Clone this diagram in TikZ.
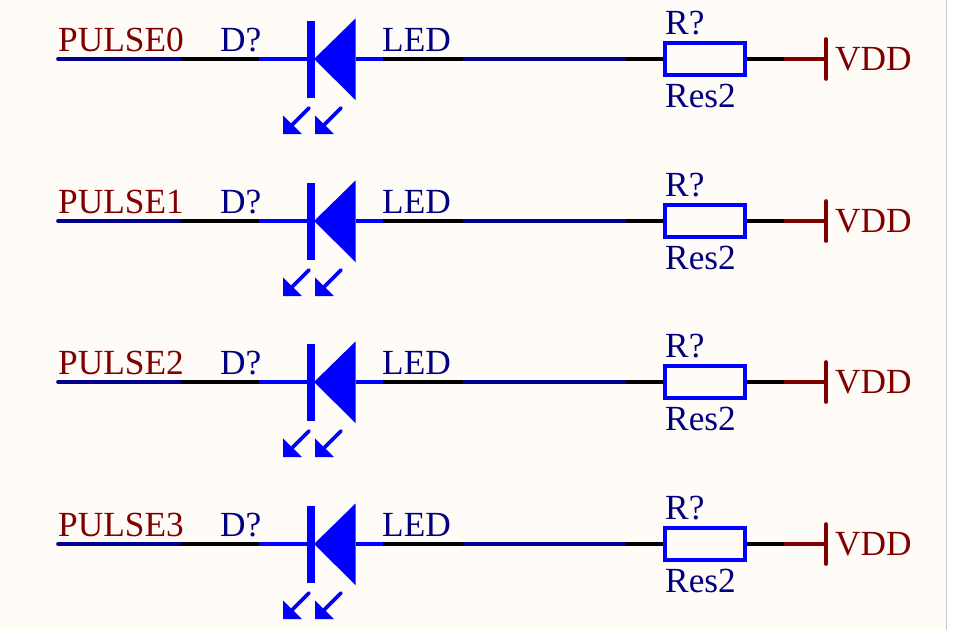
\documentclass[tikz,border=0pt]{standalone}
\usepackage{fontspec}
\setmainfont{Liberation Serif}
\definecolor{paper}{HTML}{FFFCF8}
\definecolor{navyw}{HTML}{00008C}
\definecolor{navyt}{HTML}{000080}
\definecolor{redd}{HTML}{800000}
\definecolor{bluep}{HTML}{0000FF}
\tikzset{
  lbl/.style={inner sep=0pt,anchor=base west,font=\fontsize{35.3}{35.3}\selectfont},
  netlbl/.style={lbl,text=redd},
  partlbl/.style={lbl,text=navyt},
  wire/.style={line width=3.6pt},
  resbox/.style={draw=bluep,line width=4pt,fill=paper,minimum width=80pt,minimum height=32pt,inner sep=0pt,anchor=center},
  ledbar/.style={fill=bluep,draw=none,minimum width=8pt,minimum height=77pt,inner sep=0pt},
  tri/.style={fill=bluep,draw=none},
  ray/.style={draw=bluep,line width=3.6pt,line cap=round},
  railbar/.style={draw=redd,line width=3.6pt,line cap=round},
}
\begin{document}
\begin{tikzpicture}[x=1pt,y=-1pt]
\useasboundingbox (0,0) rectangle (953,630);
\fill[paper] (0,0) rectangle (953,630);
\fill[white!90!paper] (947,0) rectangle (953,630);
\fill[black!22] (945.5,0) rectangle (947,630);
\foreach \r/\y/\n in {0/59/PULSE0,1/221/PULSE1,2/382/PULSE2,3/544/PULSE3}{
  \begin{scope}[shift={(0,\y)}]
    \coordinate (w0\r) at (58,0);
    \coordinate (w1\r) at (181,0);
    \coordinate (w2\r) at (259,0);
    \coordinate (w3\r) at (383,0);
    \coordinate (w4\r) at (463,0);
    \coordinate (w5\r) at (626,0);
    \coordinate (w6\r) at (784,0);
    \node[resbox] (res\r) at (705,0) {};
    \node[ledbar] (bar\r) at (311,0.5) {};
    \coordinate (tip\r) at (314,0);
    \coordinate (up\r) at (355.5,-40.5);
    \coordinate (dn\r) at (355.5,41);
    \coordinate (rail\r) at (826,0);
    \coordinate (railt\r) at (826,-20);
    \coordinate (railb\r) at (826,20);
    \draw[wire,navyw,line cap=round] (w0\r) -- (w1\r);
    \draw[wire,black] (w1\r) -- (w2\r);
    \draw[wire,bluep] (w2\r) -- (tip\r);
    \draw[wire,bluep] (up\r |- tip\r) -- (w3\r);
    \draw[wire,black] (w3\r) -- (w4\r);
    \draw[wire,navyw] (w4\r) -- (w5\r);
    \draw[wire,black] (w5\r) -- (res\r.west);
    \draw[wire,black] (res\r.east) -- (w6\r);
    \draw[wire,redd] (w6\r) -- (rail\r);
    \draw[railbar] (railt\r) -- (railb\r);
    \fill[tri] (tip\r) -- (up\r) -- (dn\r) -- cycle;
    \coordinate (a\r) at (283,75);
    \coordinate (b\r) at (315,75);
    \draw[ray] (309,49) -- (292,66);
    \fill[tri] (a\r) -- (283,56.5) -- (302,75) -- cycle;
    \draw[ray] (341,49) -- (324,66);
    \fill[tri] (b\r) -- (315,56.5) -- (334,75) -- cycle;
    \node[netlbl] (net\r) at (58,-8) {\n};
    \node[partlbl] (des\r) at (220,-8) {D?};
    \node[partlbl] (val\r) at (382,-8) {LED};
    \node[partlbl] (rdes\r) at (665,-24.2) {R?};
    \node[partlbl] (rval\r) at (665,48.3) {Res2};
    \node[netlbl] (vdd\r) at (835,11.5) {VDD};
  \end{scope}
}
\end{tikzpicture}
\end{document}
